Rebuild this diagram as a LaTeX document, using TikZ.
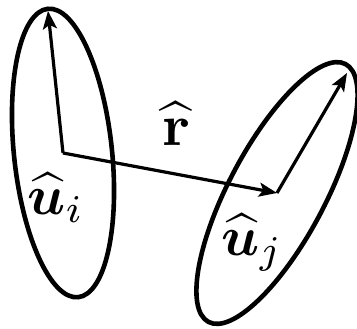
\documentclass[tikz,border=0pt]{standalone}
\usepackage{amsmath}
\usetikzlibrary{arrows.meta}
\tikzset{
  >=Stealth,
  body/.style={draw,line width=4.6pt},
  vec/.style={-{Stealth[length=18pt,width=14pt,inset=4pt]},line width=3.2pt},
  lbl/.style={scale=5.6,inner sep=0pt},
}
\begin{document}
\begin{tikzpicture}[x=1pt,y=1pt]
  \useasboundingbox (0,0) rectangle (357,329);
  % centres and axis ends of the two bodies
  \coordinate (ci) at (63,176);
  \coordinate (cj) at (277,136);
  \coordinate (ti) at (48,318);
  \coordinate (tj) at (347,256);

  \draw[body,rotate around={96:(ci)}] (ci) ellipse [x radius=145pt,y radius=49pt];
  \draw[body,rotate around={62:(cj)}] (cj) ellipse [x radius=146pt,y radius=48pt];

  \draw[vec] (ci) -- (ti);
  \draw[vec] (ci) -- (cj);
  \draw[vec] (cj) -- (tj);

  \node[lbl,scale=1.05] (rhat) at (176,205) {$\boldsymbol{\widehat{\mathbf{r}}}$};
  \node[lbl] (ui) at (56,131) {$\boldsymbol{\widehat{u}}_i$};
  \node[lbl] (uj) at (252,86) {$\boldsymbol{\widehat{u}}_j$};
\end{tikzpicture}
\end{document}
